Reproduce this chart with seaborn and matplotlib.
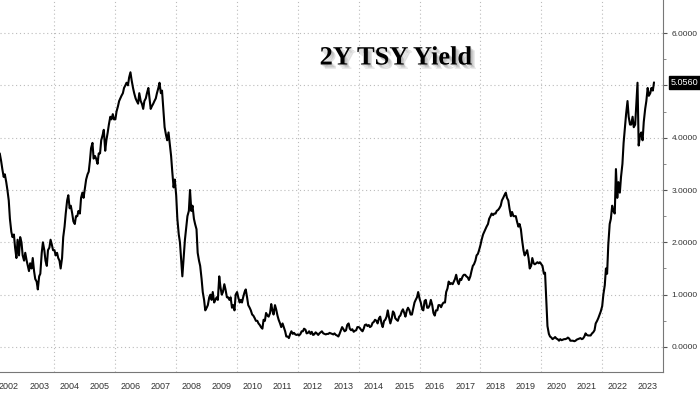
import numpy as np
import pandas as pd
import matplotlib
matplotlib.use("Agg")
import matplotlib.pyplot as plt
import matplotlib.dates as mdates
import matplotlib.patheffects as pe
import matplotlib.transforms as mtransforms
import seaborn as sns

# 2Y treasury yield, read off the chart twice a month (1st and 15th)
# 2002 starts mid-March, 2023 ends mid-September
y2002 = [3.70, 3.55, 3.40, 3.25, 3.30, 3.15, 3.00, 2.80, 2.45, 2.20, 2.10, 2.15, 1.90, 1.70, 2.05, 1.75, 2.10, 2.00, 1.75]
y2003 = [1.65, 1.80, 1.65, 1.55, 1.45, 1.60, 1.50, 1.70, 1.45, 1.30, 1.25, 1.10, 1.35, 1.40, 1.80, 2.00, 1.85, 1.65, 1.55, 1.85, 1.90, 2.05, 1.95, 1.85]
y2004 = [1.85, 1.75, 1.80, 1.70, 1.65, 1.50, 1.70, 2.10, 2.30, 2.55, 2.80, 2.90, 2.65, 2.70, 2.55, 2.40, 2.35, 2.50, 2.50, 2.60, 2.55, 2.85, 2.95, 2.85]
y2005 = [3.05, 3.20, 3.30, 3.35, 3.55, 3.80, 3.90, 3.60, 3.65, 3.60, 3.50, 3.70, 3.70, 3.95, 4.05, 4.15, 3.75, 3.95, 4.10, 4.25, 4.40, 4.35, 4.45, 4.35]
y2006 = [4.35, 4.50, 4.60, 4.70, 4.75, 4.80, 4.85, 4.95, 5.00, 5.05, 5.00, 5.15, 5.25, 5.10, 4.95, 4.85, 4.75, 4.70, 4.65, 4.85, 4.70, 4.65, 4.55, 4.70]
y2007 = [4.75, 4.85, 4.95, 4.75, 4.55, 4.60, 4.65, 4.70, 4.75, 4.85, 4.95, 5.05, 4.85, 4.90, 4.50, 4.20, 4.05, 3.95, 4.10, 3.90, 3.65, 3.35, 3.05, 3.20]
y2008 = [2.90, 2.45, 2.15, 2.00, 1.65, 1.35, 1.75, 2.05, 2.30, 2.50, 2.60, 3.00, 2.60, 2.70, 2.45, 2.35, 2.25, 1.80, 1.65, 1.55, 1.30, 1.05, 0.90, 0.70]
y2009 = [0.75, 0.80, 0.95, 1.00, 0.90, 1.05, 0.85, 0.90, 0.95, 0.90, 1.35, 1.15, 1.00, 1.05, 1.20, 1.10, 0.95, 0.95, 0.90, 0.95, 0.75, 0.80, 0.70, 1.00]
y2010 = [1.05, 0.95, 0.85, 0.90, 0.85, 0.95, 1.05, 1.10, 0.95, 0.80, 0.75, 0.70, 0.62, 0.60, 0.55, 0.50, 0.50, 0.45, 0.42, 0.38, 0.35, 0.52, 0.50, 0.65]
y2011 = [0.60, 0.58, 0.65, 0.82, 0.70, 0.62, 0.80, 0.72, 0.60, 0.52, 0.45, 0.38, 0.45, 0.38, 0.30, 0.20, 0.20, 0.17, 0.25, 0.30, 0.25, 0.27, 0.24, 0.23]
y2012 = [0.24, 0.22, 0.25, 0.30, 0.30, 0.35, 0.33, 0.26, 0.27, 0.30, 0.25, 0.29, 0.23, 0.24, 0.28, 0.26, 0.23, 0.26, 0.28, 0.30, 0.26, 0.25, 0.24, 0.25]
y2013 = [0.25, 0.27, 0.26, 0.25, 0.24, 0.26, 0.23, 0.22, 0.20, 0.25, 0.32, 0.38, 0.34, 0.30, 0.32, 0.42, 0.45, 0.35, 0.32, 0.34, 0.29, 0.31, 0.32, 0.38]
y2014 = [0.38, 0.36, 0.32, 0.30, 0.35, 0.42, 0.43, 0.40, 0.42, 0.38, 0.40, 0.46, 0.48, 0.52, 0.50, 0.45, 0.55, 0.58, 0.45, 0.38, 0.50, 0.52, 0.58, 0.70]
y2015 = [0.55, 0.45, 0.55, 0.68, 0.65, 0.55, 0.52, 0.50, 0.58, 0.60, 0.68, 0.72, 0.65, 0.58, 0.70, 0.75, 0.70, 0.62, 0.62, 0.72, 0.85, 0.90, 0.95, 1.05]
y2016 = [0.92, 0.85, 0.72, 0.70, 0.88, 0.90, 0.75, 0.75, 0.80, 0.90, 0.80, 0.65, 0.60, 0.70, 0.70, 0.80, 0.80, 0.76, 0.82, 0.85, 0.85, 1.05, 1.12, 1.25]
y2017 = [1.20, 1.22, 1.20, 1.25, 1.30, 1.38, 1.25, 1.20, 1.30, 1.28, 1.35, 1.38, 1.38, 1.35, 1.33, 1.28, 1.35, 1.45, 1.55, 1.58, 1.65, 1.75, 1.78, 1.85]
y2018 = [1.95, 2.05, 2.15, 2.20, 2.25, 2.30, 2.35, 2.45, 2.50, 2.55, 2.52, 2.55, 2.55, 2.60, 2.62, 2.65, 2.70, 2.80, 2.85, 2.90, 2.95, 2.85, 2.80, 2.65]
y2019 = [2.50, 2.58, 2.50, 2.50, 2.50, 2.40, 2.30, 2.35, 2.25, 2.05, 1.85, 1.75, 1.80, 1.85, 1.70, 1.50, 1.55, 1.70, 1.60, 1.58, 1.60, 1.62, 1.60, 1.62]
y2020 = [1.58, 1.55, 1.40, 1.42, 0.90, 0.40, 0.25, 0.20, 0.18, 0.15, 0.17, 0.19, 0.16, 0.15, 0.12, 0.15, 0.13, 0.14, 0.15, 0.15, 0.16, 0.18, 0.16, 0.12]
y2021 = [0.12, 0.12, 0.11, 0.12, 0.14, 0.15, 0.16, 0.17, 0.15, 0.16, 0.20, 0.26, 0.23, 0.22, 0.22, 0.22, 0.26, 0.28, 0.32, 0.45, 0.50, 0.55, 0.62, 0.68]
y2022 = [0.78, 1.00, 1.18, 1.50, 1.40, 1.95, 2.35, 2.45, 2.70, 2.60, 2.55, 3.40, 2.85, 3.15, 2.95, 3.25, 3.50, 3.90, 4.20, 4.45, 4.70, 4.40, 4.25, 4.25]
y2023 = [4.40, 4.20, 4.25, 4.65, 5.05, 3.85, 4.05, 4.10, 3.95, 4.30, 4.55, 4.70, 4.95, 4.80, 4.85, 4.95, 4.90, 5.056]

yearly = [y2002, y2003, y2004, y2005, y2006, y2007, y2008, y2009, y2010, y2011, y2012,
          y2013, y2014, y2015, y2016, y2017, y2018, y2019, y2020, y2021, y2022, y2023]

frames = []
for i, vals in enumerate(yearly):
    year = 2002 + i
    start = "2002-03-15" if year == 2002 else f"{year}-01-01"
    dates = pd.date_range(start, periods=len(vals), freq="SMS")
    frames.append(pd.DataFrame({"date": dates, "yield": vals}))
df = pd.concat(frames, ignore_index=True)

sns.set_style("white")
plt.rcParams["font.family"] = ["Liberation Sans", "DejaVu Sans"]

fig = plt.figure(figsize=(7, 3.94), dpi=100)
ax = fig.add_axes([0, 22 / 394, 663 / 700, 372 / 394])

sns.lineplot(data=df, x="date", y="yield", color="black", linewidth=1.5, ax=ax)

ax.set_xlim(pd.Timestamp("2002-03-18"), pd.Timestamp("2024-01-01"))
ax.set_ylim(-0.478, 6.631)
ax.set_xlabel("")
ax.set_ylabel("")

last = y2023[-1]

# right hand value axis; the label under the last-value box is hidden
ax.yaxis.tick_right()
ax.set_yticks(range(7))
ax.set_yticklabels(["" if abs(v - last) < 0.2 else f"{v:.4f}" for v in range(7)])
ax.set_yticks(np.arange(0.5, 6.5, 1), minor=True)
ax.tick_params(axis="y", which="major", length=3, width=0.8, color="#555555",
               pad=3, labelsize=6, labelcolor="#333333")
ax.tick_params(axis="y", which="minor", length=2, width=0.6, color="#777777")

# year separators below the axis, year names in between
ax.xaxis.set_major_locator(mdates.YearLocator())
ax.xaxis.set_major_formatter(plt.NullFormatter())
ax.xaxis.set_minor_locator(mdates.MonthLocator(bymonth=7))
ax.xaxis.set_minor_formatter(mdates.DateFormatter("%Y"))
ax.tick_params(axis="x", which="major", length=22, width=0.8, color="#888888", direction="out")
ax.tick_params(axis="x", which="minor", length=0, pad=7, labelsize=6.5, labelcolor="#333333")

grid_style = dict(color="#bbbbbb", linewidth=0.8, linestyle=(0, (1, 2.5)))
ax.grid(False)
ax.grid(axis="y", which="major", **grid_style)
for yr in range(2004, 2024, 2):
    ax.axvline(pd.Timestamp(f"{yr}-01-01"), zorder=0, **grid_style)

for side in ["left", "top"]:
    ax.spines[side].set_visible(False)
for side in ["right", "bottom"]:
    ax.spines[side].set_color("#777777")
    ax.spines[side].set_linewidth(0.8)

# last value marker
trans = mtransforms.blended_transform_factory(ax.transAxes, ax.transData)
ax.text(1.012, last, f"{last:.4f}", transform=trans, ha="left", va="center",
        color="white", fontsize=6.5, clip_on=False,
        bbox=dict(boxstyle="square,pad=0.25", fc="black", ec="black"))

# title with soft drop shadow
shadow = [pe.SimplePatchShadow(offset=(o, -o), shadow_rgbFace="#888888", alpha=0.25) for o in (1, 2, 3)]
fig.text(396 / 700, 1 - 58 / 394, "2Y TSY Yield", ha="center", va="center",
         fontsize=19, fontweight="bold", color="black", family=["Liberation Serif", "DejaVu Serif"],
         path_effects=shadow + [pe.Normal()])

fig.savefig("out.png", dpi=100)
